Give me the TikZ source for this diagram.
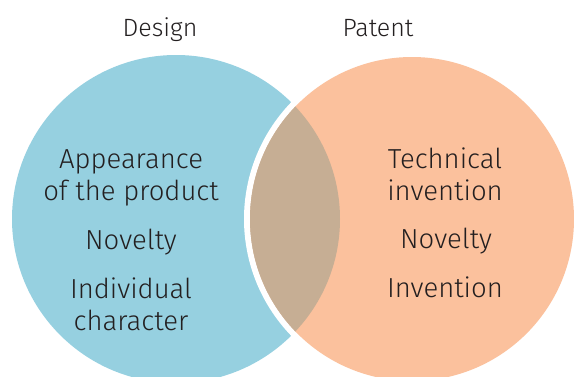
\documentclass[tikz,border=0pt]{standalone}
\usepackage{fontspec}
\setmainfont{Fira Sans}[UprightFont={* Light}]
\definecolor{designblue}{HTML}{96D0E0}
\definecolor{patentorange}{HTML}{FBC19D}
\definecolor{overlapbrown}{HTML}{C6AE94}
\definecolor{inkdark}{HTML}{231F20}
\begin{document}
\begin{tikzpicture}[x=1pt,y=1pt,
  label text/.style={anchor=base, inner sep=0pt, text=inkdark, font=\fontsize{27.5}{32}\selectfont},
  title text/.style={anchor=base, inner sep=0pt, text=inkdark, font=\fontsize{25}{30}\selectfont}]
\useasboundingbox (0,0) rectangle (574,376);
\coordinate (dc) at (176,157);
\coordinate (pc) at (412,157);
% design set
\fill[designblue] (dc) circle (164pt);
% white rim of the patent set, then the patent set itself
\draw[white, line width=6pt] (pc) circle (165pt);
\fill[patentorange] (pc) circle (162pt);
% overlap of both sets
\begin{scope}
  \clip (dc) circle (164pt);
  \fill[overlapbrown] (pc) circle (162pt);
\end{scope}
% titles
\node[title text] (tdesign) at (160,339) {Design};
\node[title text] (tpatent) at (378,339) {Patent};
% design criteria
\node[label text] (d1) at (131,208) {Appearance};
\node[label text] (d2) at (131,176) {of the product};
\node[label text] (d3) at (131,127) {Novelty};
\node[label text] (d4) at (131,78) {Individual};
\node[label text] (d5) at (131,46) {character};
% patent criteria
\node[label text] (p1) at (445,208) {Technical};
\node[label text] (p2) at (445,176) {invention};
\node[label text] (p3) at (446,128) {Novelty};
\node[label text] (p4) at (445,79) {Invention};
\end{tikzpicture}
\end{document}
